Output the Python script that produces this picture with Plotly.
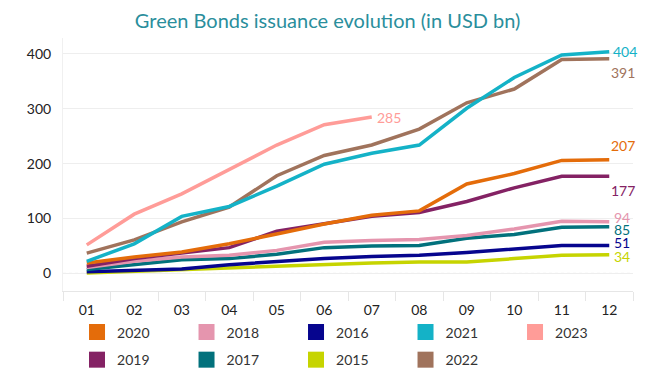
import plotly.graph_objects as go

months = ["01", "02", "03", "04", "05", "06", "07", "08", "09", "10", "11", "12"]

y2020 = [19, 30, 39, 54, 72, 90, 106, 114, 163, 182, 206, 207]
y2019 = [13, 27, 37, 47, 77, 90, 104, 111, 131, 156, 177, 177]
y2018 = [11, 22, 30, 33, 42, 57, 60, 62, 69, 81, 95, 94]
y2017 = [7, 16, 25, 27, 35, 47, 50, 51, 64, 71, 84, 85]
y2016 = [3, 6, 8, 16, 22, 27, 31, 33, 38, 45, 51, 51]
y2015 = [1, 4, 7, 11, 14, 17, 19, 21, 21, 27, 33, 34]
y2021 = [22, 54, 104, 122, 159, 199, 219, 234, 301, 357, 398, 404]
y2022 = [37, 61, 94, 121, 178, 215, 234, 263, 311, 336, 390, 391]
y2023 = [52, 108, 145, 190, 234, 271, 285]

series = [
    ("2020", y2020, "#E46C0A"),
    ("2018", y2018, "#E595AE"),
    ("2016", y2016, "#06058E"),
    ("2021", y2021, "#14B2C7"),
    ("2023", y2023, "#FF9C98"),
    ("2019", y2019, "#842264"),
    ("2017", y2017, "#02717C"),
    ("2015", y2015, "#C6D400"),
    ("2022", y2022, "#A0735C"),
]
legend_rows = {"2020": "legend", "2018": "legend", "2016": "legend", "2021": "legend",
               "2023": "legend", "2019": "legend2", "2017": "legend2", "2015": "legend2",
               "2022": "legend2"}

# label offsets (px) relative to the last point of each series
label_shift = {
    "2021": (2, 0), "2022": (0, -14), "2023": (3, 0), "2020": (0, 14),
    "2019": (0, -14), "2018": (3, 4), "2017": (3, -3), "2016": (3, 3), "2015": (3, -2),
}

fig = go.Figure()
draw_order = ["2015", "2016", "2017", "2018", "2019", "2020", "2022", "2021", "2023"]
by_name = {s[0]: s for s in series}
for name in draw_order:
    _, ys, col = by_name[name]
    fig.add_trace(go.Scatter(
        x=months[:len(ys)], y=ys, mode="lines", name=name,
        line=dict(color=col, width=3.5), showlegend=False, hoverinfo="skip"))

for name, ys, col in series:
    fig.add_trace(go.Scatter(
        x=[None], y=[None], mode="markers", name=name, legend=legend_rows[name],
        marker=dict(color=col, symbol="square", size=16)))

for name, ys, col in series:
    dx, dy = label_shift[name]
    fig.add_annotation(
        x=len(ys) - 1, y=ys[-1], text=str(ys[-1]), showarrow=False,
        xanchor="left", yanchor="middle", xshift=dx, yshift=dy,
        font=dict(color=col, size=14, family="Lato"))

fig.add_shape(type="line", xref="paper", x0=0, x1=1, yref="y", y0=0, y1=0,
              line=dict(color="#BBBBBB", width=1, dash="dot"), layer="below")

leg_common = dict(orientation="h", x=0.0246, xanchor="left", yanchor="middle",
                  entrywidth=64.5, font=dict(size=14, color="#333333"),
                  itemclick=False, bgcolor="rgba(0,0,0,0)")

fig.update_layout(
    width=655, height=375,
    margin=dict(l=55, r=30, t=30, b=92, autoexpand=False),
    paper_bgcolor="white", plot_bgcolor="white",
    font=dict(family="Lato", size=14, color="#222222"),
    title=dict(text="Green Bonds issuance evolution (in USD bn)", x=0.488, xanchor="center",
               y=0.965, yanchor="middle", font=dict(size=20, color="#2A8E9C", family="Lato")),
    xaxis=dict(type="category", categoryorder="array", categoryarray=months,
               range=[-0.5, 11.5], showgrid=False, showline=True, linecolor="#E6E6E6",
               ticks="outside", tickson="boundaries", ticklen=9, tickcolor="#E6E6E6",
               tickfont=dict(size=14, color="#222222"), ticklabelstandoff=6, zeroline=False),
    yaxis=dict(range=[-32, 429], tickvals=[0, 100, 200, 300, 400], showgrid=True,
               gridcolor="#EEEEEE", zeroline=False, showline=True, linecolor="#F0F0F0",
               ticks="outside", ticklen=8, tickcolor="rgba(0,0,0,0)",
               tickfont=dict(size=14, color="#222222")),
    legend=dict(y=-0.164, **leg_common),
    legend2=dict(y=-0.273, **leg_common),
    showlegend=True,
)

fig.write_html("out.html")
